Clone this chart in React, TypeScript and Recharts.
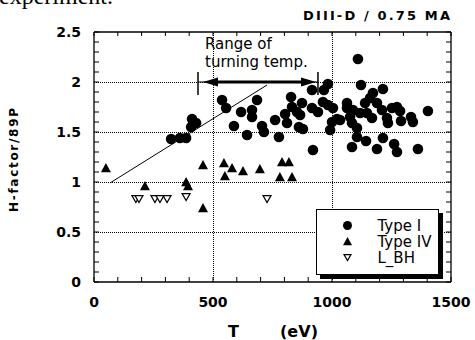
import React from "react";
import {
  ScatterChart,
  Scatter,
  XAxis,
  YAxis,
  ReferenceLine,
  ReferenceDot,
  Legend,
} from "recharts";

// axis ticks (labels only on the major ones)
const tempTicks = [0, 500, 1000, 1500];
const tempAll = [0, 100, 200, 300, 400, 500, 600, 700, 800, 900, 1000, 1100, 1200, 1300, 1400, 1500];
const hTicks = [0, 0.5, 1, 1.5, 2, 2.5];
const hAll = [
  0, 0.1, 0.2, 0.3, 0.4, 0.5, 0.6, 0.7, 0.8, 0.9, 1, 1.1, 1.2, 1.3, 1.4, 1.5, 1.6, 1.7, 1.8,
  1.9, 2, 2.1, 2.2, 2.3, 2.4, 2.5,
];
const tempGrid = [500, 1000];
const hGrid = [0.5, 1, 1.5, 2];

// [T (eV), H-factor]
const typeI: [number, number][] = [
  [324, 1.43], [361, 1.44], [387, 1.44], [412, 1.63], [429, 1.59], [408, 1.55],
  [538, 1.82], [555, 1.74], [588, 1.56], [618, 1.7], [643, 1.47], [664, 1.72],
  [664, 1.65], [685, 1.82], [706, 1.56], [714, 1.5], [761, 1.62], [777, 1.45],
  [803, 1.68], [811, 1.59], [828, 1.85], [832, 1.75], [853, 1.7], [874, 1.79],
  [866, 1.67], [861, 1.55], [878, 1.53], [916, 1.92], [916, 1.74], [920, 1.32],
  [966, 1.92], [983, 1.98], [962, 1.8], [983, 1.77], [1004, 1.74], [1000, 1.6],
  [992, 1.52], [1021, 1.63], [1063, 1.79], [1063, 1.74], [1076, 1.65], [1084, 1.59],
  [1088, 1.72], [1084, 1.35], [1109, 2.23], [1122, 1.97], [1105, 1.54], [1105, 1.45],
  [1118, 1.69], [1139, 1.79], [1147, 1.69], [1143, 1.41], [1160, 1.84], [1172, 1.89],
  [1214, 1.93], [1189, 1.79], [1168, 1.64], [1210, 1.72], [1214, 1.44], [1189, 1.33],
  [1231, 1.64], [1235, 1.59], [1252, 1.74], [1273, 1.75], [1286, 1.71], [1290, 1.61],
  [1261, 1.38], [1273, 1.3], [1332, 1.65], [1340, 1.6], [1361, 1.33], [1403, 1.71],
  [1034, 1.62], [941, 1.7],
];
const typeIV: [number, number][] = [
  [50, 1.14], [214, 0.96], [387, 1.0], [395, 0.96], [458, 1.17], [458, 0.74],
  [546, 1.19], [580, 1.14], [550, 1.06], [626, 1.11], [697, 1.13], [790, 1.2],
  [819, 1.2], [781, 1.05], [832, 1.05],
];
const lBH: [number, number][] = [
  [176, 0.83], [189, 0.83], [256, 0.83], [277, 0.83], [307, 0.83], [387, 0.85], [727, 0.83],
];
const seriesNames = ["Type I", "Type IV", "L_BH"];

// annotations
const trendLine: [number, number][] = [[67, 0.99], [727, 1.97]];
const rangeEnds = [437, 941];
const arrowTips = [458, 933];
const arrowShaft = [521, 874];
const arrowLevel = 2.0;

const T_MAX = 1500;
const H_MAX = 2.5;

const toRows = (pts: [number, number][]) => pts.map(([t, h]) => ({ t, h }));

const Dot = (p: any) => <circle cx={p.cx} cy={p.cy} r={p.legend ? 4.5 : 5.3} fill="#000" />;
const Tri = (p: any) => {
  const s = p.legend ? 4.5 : 5;
  return (
    <polygon
      points={`${p.cx},${p.cy - s} ${p.cx + s},${p.cy + s * 0.85} ${p.cx - s},${p.cy + s * 0.85}`}
      fill="#000"
    />
  );
};
const OpenTri = (p: any) => {
  const s = p.legend ? 3.5 : 4;
  return (
    <polygon
      points={`${p.cx - s},${p.cy - s * 0.85} ${p.cx + s},${p.cy - s * 0.85} ${p.cx},${p.cy + s * 0.9}`}
      fill="#fff"
      stroke="#000"
      strokeWidth={1.2}
    />
  );
};

const markers: Record<string, any> = { "Type I": Dot, "Type IV": Tri, L_BH: OpenTri };

// dotted grid line snapped to the pixel grid so the dots stay dark
const Dotted = (p: any) => {
  const vertical = Math.abs(p.x1 - p.x2) < 0.01;
  const x1 = vertical ? Math.round(p.x1) + 0.5 : p.x1;
  const x2 = vertical ? Math.round(p.x2) + 0.5 : p.x2;
  const y1 = vertical ? p.y1 : Math.round(p.y1) + 0.5;
  const y2 = vertical ? p.y2 : Math.round(p.y2) + 0.5;
  return <line x1={x1} y1={y1} x2={x2} y2={y2} stroke="#000" strokeWidth={1} strokeDasharray="1 1" />;
};

const ArrowLeft = (p: any) => (
  <polygon points={`${p.cx},${p.cy} ${p.cx + 15},${p.cy - 4.5} ${p.cx + 15},${p.cy + 4.5}`} fill="#000" />
);
const ArrowRight = (p: any) => (
  <polygon points={`${p.cx},${p.cy} ${p.cx - 15},${p.cy - 4.5} ${p.cx - 15},${p.cy + 4.5}`} fill="#000" />
);

function LegendBox(props: any) {
  const present = new Set((props.payload ?? []).map((it: any) => it.value));
  const items = seriesNames.filter((n) => present.has(n));
  return (
    <div
      style={{
        width: 123,
        height: 66,
        boxSizing: "border-box",
        border: "1.5px solid #000",
        boxShadow: "4px 4px 0 #000",
        background: "#fff",
      }}
    >
      <svg width={120} height={63} style={{ display: "block" }}>
        {items.map((name, i) => {
          const cy = 15.5 + i * 16;
          const M = markers[name];
          return (
            <g key={name}>
              <M cx={30.5} cy={cy} legend />
              <text x={60.5} y={cy + 5.5} fontFamily="DejaVu Sans" fontSize={15} fill="#000">
                {name}
              </text>
            </g>
          );
        })}
      </svg>
    </div>
  );
}

const tickFont = { fill: "#000", fontSize: 14, fontWeight: "bold", fontFamily: "DejaVu Sans" };
const border = { stroke: "#000", strokeWidth: 1.3 };

export default function App() {
  return (
    <div style={{ position: "absolute", left: 0, top: 0, width: 475, height: 340, background: "#fff", overflow: "hidden" }}>
      <ScatterChart width={475} height={340} margin={{ top: 32, right: 24, bottom: 0, left: 0 }}>
        <XAxis
          xAxisId="t"
          dataKey="t"
          type="number"
          domain={[0, T_MAX]}
          ticks={tempAll}
          tickFormatter={(v: number) => (tempTicks.includes(v) ? String(v) : "")}
          interval={0}
          allowDataOverflow
          height={58}
          tickLine={{ stroke: "#000" }}
          tickSize={-5}
          tickMargin={20}
          axisLine={border}
          tick={tickFont}
        />
        <YAxis
          yAxisId="h"
          dataKey="h"
          type="number"
          domain={[0, H_MAX]}
          ticks={hAll}
          tickFormatter={(v: number) => (hTicks.includes(v) ? String(v) : "")}
          interval={0}
          allowDataOverflow
          width={94}
          tickLine={{ stroke: "#000" }}
          tickSize={-5}
          tickMargin={18}
          axisLine={border}
          tick={tickFont}
        />

        {/* dotted grid at the major ticks */}
        {hGrid.map((y) => (
          <ReferenceLine key={`gy${y}`} xAxisId="t" yAxisId="h" y={y} stroke="#000" shape={Dotted} />
        ))}
        {tempGrid.map((x) => (
          <ReferenceLine key={`gx${x}`} xAxisId="t" yAxisId="h" x={x} stroke="#000" shape={Dotted} />
        ))}

        {/* top and right frame with inward minor ticks */}
        <ReferenceLine xAxisId="t" yAxisId="h" y={H_MAX} {...border} />
        <ReferenceLine xAxisId="t" yAxisId="h" x={T_MAX} {...border} />
        {tempAll.map((t) => (
          <ReferenceLine
            key={`tt${t}`}
            xAxisId="t"
            yAxisId="h"
            segment={[{ x: t, y: H_MAX }, { x: t, y: H_MAX - 0.04 }]}
            stroke="#000"
          />
        ))}
        {hAll.map((h) => (
          <ReferenceLine
            key={`rt${h}`}
            xAxisId="t"
            yAxisId="h"
            segment={[{ x: T_MAX, y: h }, { x: T_MAX - 21, y: h }]}
            stroke="#000"
          />
        ))}

        <ReferenceLine
          xAxisId="t"
          yAxisId="h"
          segment={trendLine.map(([x, y]) => ({ x, y }))}
          stroke="#000"
          strokeWidth={1}
        />
        <ReferenceLine
          xAxisId="t"
          yAxisId="h"
          segment={[{ x: rangeEnds[0], y: arrowLevel }, { x: rangeEnds[1], y: arrowLevel }]}
          stroke="#000"
          strokeWidth={1}
        />
        <ReferenceLine
          xAxisId="t"
          yAxisId="h"
          segment={[{ x: arrowShaft[0], y: arrowLevel }, { x: arrowShaft[1], y: arrowLevel }]}
          stroke="#000"
          strokeWidth={3}
        />
        {rangeEnds.map((x) => (
          <ReferenceLine
            key={x}
            xAxisId="t"
            yAxisId="h"
            segment={[{ x, y: arrowLevel - 0.13 }, { x, y: arrowLevel + 0.1 }]}
            stroke="#000"
            strokeWidth={1.5}
          />
        ))}
        <ReferenceDot xAxisId="t" yAxisId="h" x={arrowTips[0]} y={arrowLevel} shape={ArrowLeft} />
        <ReferenceDot xAxisId="t" yAxisId="h" x={arrowTips[1]} y={arrowLevel} shape={ArrowRight} />

        <Scatter name="Type I" xAxisId="t" yAxisId="h" data={toRows(typeI)} shape={Dot} fill="#000" isAnimationActive={false} />
        <Scatter name="Type IV" xAxisId="t" yAxisId="h" data={toRows(typeIV)} shape={Tri} fill="#000" isAnimationActive={false} />
        <Scatter name="L_BH" xAxisId="t" yAxisId="h" data={toRows(lBH)} shape={OpenTri} fill="#fff" isAnimationActive={false} />

        <Legend
          layout="vertical"
          align="center"
          verticalAlign="middle"
          wrapperStyle={{ left: 316, top: 209, width: 123, height: 66 }}
          content={LegendBox}
        />
      </ScatterChart>

      <svg
        width={475}
        height={340}
        style={{ position: "absolute", left: 0, top: 0, pointerEvents: "none" }}
      >
        <text x={-1} y={4} fontFamily="Liberation Serif" fontSize={24} fill="#000">
          experiment.
        </text>
        <text
          x={303}
          y={20}
          fontFamily="DejaVu Sans"
          fontWeight="bold"
          fontSize={13}
          textLength={147}
          lengthAdjust="spacing"
          fill="#000"
        >
          DIII-D / 0.75 MA
        </text>
        <text
          transform="translate(18,160) rotate(-90)"
          textAnchor="middle"
          fontFamily="DejaVu Sans"
          fontWeight="bold"
          fontSize={12}
          textLength={104}
          lengthAdjust="spacing"
          fill="#000"
        >
          H-factor/89P
        </text>
        <text x={228} y={337} fontFamily="DejaVu Sans" fontWeight="bold" fontSize={16} fill="#000">
          T
        </text>
        <text x={280} y={337} fontFamily="DejaVu Sans" fontWeight="bold" fontSize={16} textLength={38} lengthAdjust="spacing" fill="#000">
          (eV)
        </text>
        <text x={205} y={49} fontFamily="DejaVu Sans" fontSize={15} fill="#000">
          Range of
        </text>
        <text x={205} y={67} fontFamily="DejaVu Sans" fontSize={15} fill="#000">
          turning temp.
        </text>
      </svg>
    </div>
  );
}
